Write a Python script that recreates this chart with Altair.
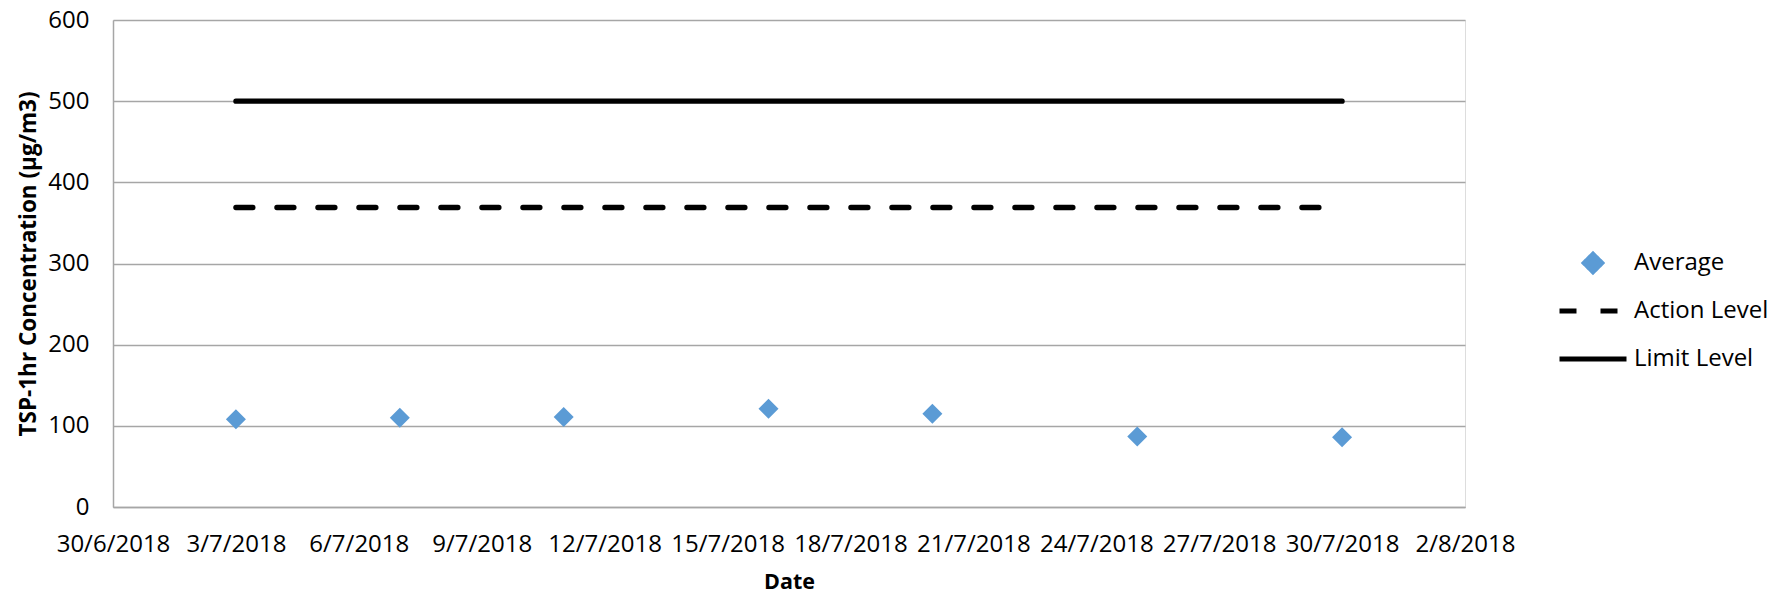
import altair as alt
import pandas as pd

# ---- data ----
avg_dates = ["2018-07-03", "2018-07-07", "2018-07-11", "2018-07-16",
             "2018-07-20", "2018-07-25", "2018-07-30"]
avg_values = [108, 110, 111, 121, 115, 87, 86]

level_dates = ["2018-07-03", "2018-07-30"]
action_level = [369, 369]
limit_level = [500, 500]

tick_dates = ["2018-06-30", "2018-07-03", "2018-07-06", "2018-07-09",
              "2018-07-12", "2018-07-15", "2018-07-18", "2018-07-21",
              "2018-07-24", "2018-07-27", "2018-07-30", "2018-08-02"]
y_ticks = [0, 100, 200, 300, 400, 500, 600]

series_names = ["Average", "Action Level", "Limit Level"]
series_colors = ["#5B9BD5", "#000000", "#000000"]

# ---- tables ----
avg_df = pd.DataFrame({
    "date": [d + "T00:00:00" for d in avg_dates],
    "value": avg_values,
    "series": series_names[0],
})
lvl_df = pd.concat([
    pd.DataFrame({"date": [d + "T00:00:00" for d in level_dates],
                  "value": action_level, "series": series_names[1]}),
    pd.DataFrame({"date": [d + "T00:00:00" for d in level_dates],
                  "value": limit_level, "series": series_names[2]}),
])


def dt(s):
    y, m, d = (int(p) for p in s.split("-"))
    return alt.DateTime(year=y, month=m, date=d)


FONT = "Open Sans"
GRID = "#A6A6A6"

x_enc = alt.X(
    "date:T",
    scale=alt.Scale(domain=[dt(tick_dates[0]), dt(tick_dates[-1])], nice=False),
    axis=alt.Axis(
        values=[dt(t) for t in tick_dates], format="%-d/%-m/%Y", title="Date",
        grid=False, ticks=False, tickSize=0, labelPadding=25, labelAngle=0,
        labelOverlap=False, labelFlush=False, domainColor=GRID, domainWidth=1.5,
        labelFont=FONT, labelFontSize=24, labelColor="#000000",
        titleFont=FONT, titleFontSize=21.5, titleFontWeight="bold",
        titleColor="#000000", titlePadding=15,
    ),
)
y_enc = alt.Y(
    "value:Q",
    scale=alt.Scale(domain=[0, 600], nice=False),
    axis=alt.Axis(
        values=y_ticks, title="TSP-1hr Concentration (µg/m3)",
        grid=True, gridColor=GRID, gridWidth=1.5, ticks=False, tickSize=0,
        labelPadding=24, domainColor=GRID, domainWidth=1.5,
        labelFont=FONT, labelFontSize=24, labelColor="#000000",
        titleFont=FONT, titleFontSize=22.5, titleFontWeight="bold",
        titleColor="#000000", titlePadding=7,
    ),
)

diamond_path = "M-0.26,0L0,-0.26L0.26,0L0,0.26Z"
is_avg = "datum.value === 'Average'"
is_action = "datum.value === 'Action Level'"

legend = alt.Legend(
    title=None, orient="none", legendX=1444, legendY=219, padding=0,
    symbolSize=4489, symbolStrokeWidth=5,
    symbolType=alt.ExprRef(expr=f"{is_avg} ? '{diamond_path}' : 'stroke'"),
    symbolFillColor=alt.ExprRef(expr=f"{is_avg} ? '{series_colors[0]}' : 'transparent'"),
    symbolStrokeColor=alt.ExprRef(expr=f"{is_avg} ? 'transparent' : '#000000'"),
    symbolDash=alt.ExprRef(expr=f"{is_action} ? [17, 24] : [1, 0]"),
    symbolOpacity=1,
    clipHeight=48, rowPadding=0, labelOffset=5,
    labelFont=FONT, labelFontSize=24, labelColor="#000000",
)

color_enc = alt.Color(
    "series:N",
    scale=alt.Scale(domain=series_names, range=series_colors),
    legend=legend,
)

points = alt.Chart(avg_df).mark_point(
    shape="diamond", filled=True, size=400, opacity=1
).encode(x=x_enc, y=y_enc, color=color_enc)

lines = alt.Chart(lvl_df).mark_line(strokeWidth=5.3, strokeCap="round").encode(
    x=x_enc, y=y_enc, color=color_enc,
    strokeDash=alt.StrokeDash(
        "series:N",
        scale=alt.Scale(domain=series_names[1:], range=[[17, 24], [1, 0]]),
        legend=None,
    ),
)

chart = alt.layer(points, lines).properties(
    width=1352, height=487,
    padding={"left": 105, "top": 12, "right": 310, "bottom": 88},
    autosize=alt.AutoSizeParams(type="none"),
).configure_view(stroke=None).configure(background="white")

chart.save("out.html", embed_options={"renderer": "svg", "actions": False})
